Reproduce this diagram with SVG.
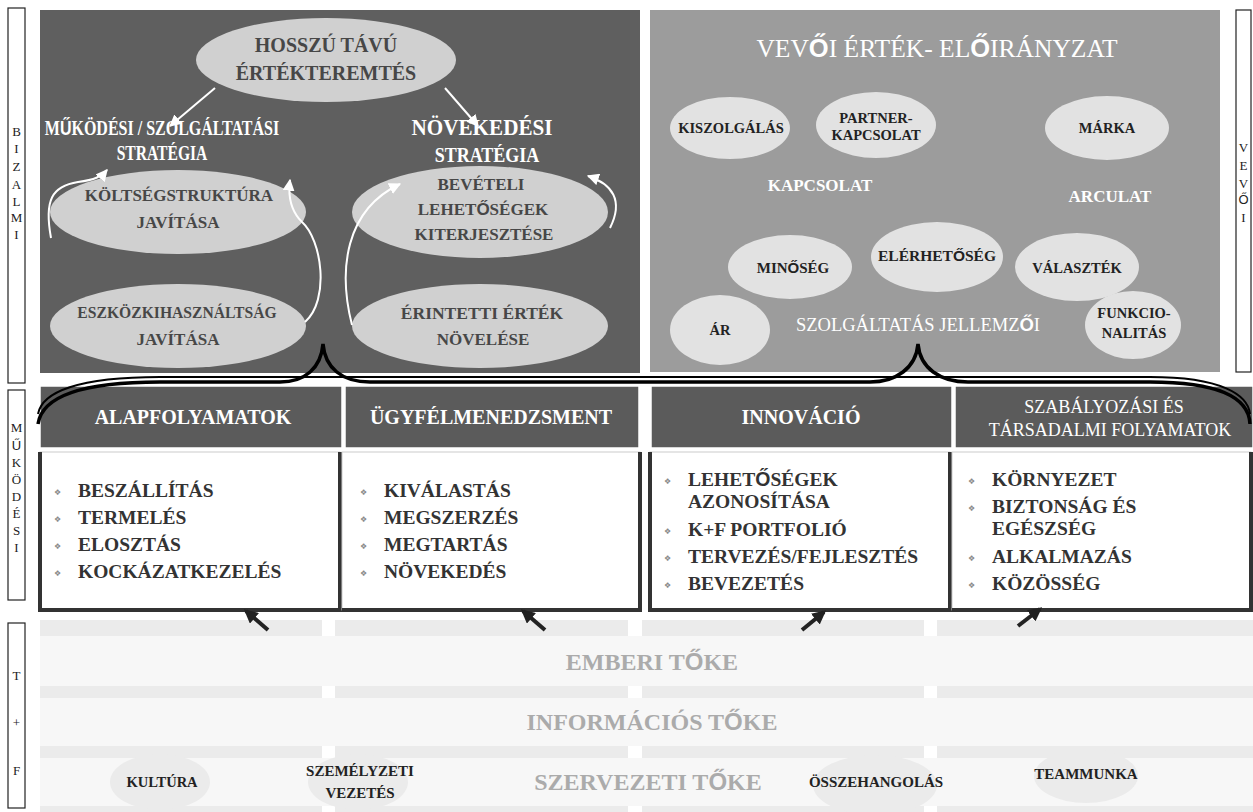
<svg xmlns="http://www.w3.org/2000/svg" width="1253" height="812" viewBox="0 0 1253 812">
  <defs>
    <style>
      .serif { font-family: "Liberation Serif", "Times New Roman", serif; font-weight: bold; }
      .reg { font-weight: normal; }
      .sx { font-family: "Liberation Sans", Arial, sans-serif; font-weight: bold; }
      .side { font-family: "Liberation Serif", serif; font-size: 13px; fill: #222; text-anchor: middle; }
      .side-sx { font-family: "Liberation Sans", Arial, sans-serif; font-size: 13px; fill: #222; text-anchor: middle; }
      .sidebox { fill: #fff; stroke: #222; stroke-width: 1.2; }
      .ell-dark { fill: #d0d0d0; }
      .ell-light { fill: #e2e2e2; }
      .ell-base { fill: #ebebeb; }
      .t-dark { fill: #474747; text-anchor: middle; }
      .t-black { fill: #222; text-anchor: middle; }
      .t-white { fill: #fff; text-anchor: middle; }
      .hdr { fill: #5b5b5b; stroke: #fff; stroke-width: 1.5; }
      .item { fill: #333; font-size: 19.5px; }
      .bul { font-family: "DejaVu Sans", sans-serif; font-size: 8px; fill: #888; }
      .strip { fill: #ebebeb; }
      .row { fill: #f7f7f7; }
      .cap { fill: #ababab; font-size: 24px; text-anchor: middle; }
      .warrow { fill: none; stroke: #fff; stroke-width: 2; }
      .barrow { fill: none; stroke: #222; stroke-width: 4; }
      .brace { fill: none; stroke: #000; }
    </style>
    <marker id="wh" viewBox="0 0 10 10" refX="9" refY="5" markerWidth="6" markerHeight="6" markerUnits="strokeWidth" orient="auto">
      <path d="M0,0 L10,5 L0,10 Z" fill="#fff"/>
    </marker>
    <marker id="bh" viewBox="0 0 10 10" refX="8" refY="5" markerWidth="3.5" markerHeight="3.5" markerUnits="strokeWidth" orient="auto">
      <path d="M0,0 L10,5 L0,10 Z" fill="#222"/>
    </marker>
  </defs>

  <rect width="1253" height="812" fill="#fff"/>

  <!-- side labels -->
  <g id="side-bizalmi">
    <rect class="sidebox" x="8" y="8" width="17" height="375"/>
    <text class="side" x="16.5" y="136">B</text>
    <text class="side" x="16.5" y="153">I</text>
    <text class="side" x="16.5" y="171">Z</text>
    <text class="side" x="16.5" y="189">A</text>
    <text class="side" x="16.5" y="206">L</text>
    <text class="side" x="16.5" y="222">M</text>
    <text class="side" x="16.5" y="239">I</text>
  </g>
  <g id="side-mukodesi">
    <rect class="sidebox" x="8" y="390" width="17" height="210"/>
    <text class="side" x="16.5" y="432">M</text>
    <text class="side-sx" x="16.5" y="450">Ű</text>
    <text class="side" x="16.5" y="467">K</text>
    <text class="side" x="16.5" y="484">Ö</text>
    <text class="side" x="16.5" y="501">D</text>
    <text class="side" x="16.5" y="518">É</text>
    <text class="side" x="16.5" y="535">S</text>
    <text class="side" x="16.5" y="552">I</text>
  </g>
  <g id="side-tf">
    <rect class="sidebox" x="8" y="623" width="17" height="185"/>
    <text class="side" x="16.5" y="680">T</text>
    <text class="side" x="16.5" y="727">+</text>
    <text class="side" x="16.5" y="775">F</text>
  </g>
  <g id="side-vevoi">
    <rect class="sidebox" x="1236" y="10" width="15" height="362"/>
    <text class="side" x="1243.5" y="152">V</text>
    <text class="side" x="1243.5" y="170">E</text>
    <text class="side" x="1243.5" y="188">V</text>
    <text class="side-sx" x="1243.5" y="204">Ő</text>
    <text class="side" x="1243.5" y="222">I</text>
  </g>

  <!-- strategy panel -->
  <g id="strategy-panel">
    <rect x="40" y="10" width="600" height="363" fill="#5f5f5f"/>
  </g>
  <g id="node-hosszu">
    <ellipse class="ell-dark" cx="326" cy="60" rx="130" ry="42"/>
    <text class="serif t-dark" x="326" y="52" font-size="20">HOSSZÚ TÁVÚ</text>
    <text class="serif t-dark" x="326" y="80" font-size="20">ÉRTÉKTEREMTÉS</text>
  </g>
  <g id="node-mukodesi">
    <text class="serif t-white" font-size="20" transform="translate(162,135) scale(0.8,1)">M<tspan class="sx">Ű</tspan>KÖDÉSI / SZOLGÁLTATÁSI</text>
    <text class="serif t-white" font-size="20" transform="translate(162,160) scale(0.78,1)">STRATÉGIA</text>
  </g>
  <g id="node-novekedesi">
    <text class="serif t-white" font-size="23" transform="translate(482,135) scale(0.92,1)">NÖVEKEDÉSI</text>
    <text class="serif t-white" font-size="20" transform="translate(487,162) scale(0.9,1)">STRATÉGIA</text>
  </g>
  <g id="node-koltseg">
    <ellipse class="ell-dark" cx="178" cy="212" rx="128" ry="42"/>
    <text class="serif t-dark" x="179" y="201" font-size="17">KÖLTSÉGSTRUKTÚRA</text>
    <text class="serif t-dark" x="178" y="228" font-size="17">JAVÍTÁSA</text>
  </g>
  <g id="node-eszkoz">
    <ellipse class="ell-dark" cx="178" cy="326" rx="128" ry="42"/>
    <text class="serif t-dark" font-size="17" transform="translate(177,318) scale(0.92,1)">ESZKÖZKIHASZNÁLTSÁG</text>
    <text class="serif t-dark" x="178" y="345" font-size="17">JAVÍTÁSA</text>
  </g>
  <g id="node-beveteli">
    <ellipse class="ell-dark" cx="480" cy="212" rx="128" ry="46"/>
    <text class="serif t-dark" x="481" y="190" font-size="17">BEVÉTELI</text>
    <text class="serif t-dark" x="483" y="215" font-size="17">LEHET<tspan class="sx">Ő</tspan>SÉGEK</text>
    <text class="serif t-dark" x="484" y="240" font-size="17">KITERJESZTÉSE</text>
  </g>
  <g id="node-erintetti">
    <ellipse class="ell-dark" cx="480" cy="326" rx="128" ry="42"/>
    <text class="serif t-dark" x="482" y="319" font-size="17.5">ÉRINTETTI  ÉRTÉK</text>
    <text class="serif t-dark" x="483" y="345" font-size="17">NÖVELÉSE</text>
  </g>

  <!-- customer value panel -->
  <g id="value-panel">
    <rect x="650" y="10" width="570" height="362" fill="#9c9c9c"/>
    <text class="serif reg t-white" x="937" y="57" font-size="25.5">VEV<tspan class="sx">Ő</tspan>I ÉRTÉK- EL<tspan class="sx">Ő</tspan>IRÁNYZAT</text>
    <text class="serif t-white" x="820" y="191" font-size="17">KAPCSOLAT</text>
    <text class="serif t-white" x="1110" y="202" font-size="17">ARCULAT</text>
    <text class="serif reg t-white" x="918" y="331" font-size="18.5">SZOLGÁLTATÁS JELLEMZ<tspan class="sx">Ő</tspan>I</text>
  </g>
  <g id="node-kiszolgalas">
    <ellipse class="ell-light" cx="730" cy="128" rx="60" ry="31"/>
    <text class="serif t-black" x="731" y="133" font-size="14.5">KISZOLGÁLÁS</text>
  </g>
  <g id="node-partner">
    <ellipse class="ell-light" cx="876" cy="125" rx="60" ry="33"/>
    <text class="serif t-black" x="876" y="123" font-size="14.5">PARTNER-</text>
    <text class="serif t-black" x="876" y="140" font-size="14.5">KAPCSOLAT</text>
  </g>
  <g id="node-marka">
    <ellipse class="ell-light" cx="1107" cy="128" rx="62" ry="32"/>
    <text class="serif t-black" x="1107" y="133" font-size="14.5">MÁRKA</text>
  </g>
  <g id="node-minoseg">
    <ellipse class="ell-light" cx="790" cy="267" rx="62" ry="32"/>
    <text class="serif t-black" x="793" y="273" font-size="15">MIN<tspan class="sx">Ő</tspan>SÉG</text>
  </g>
  <g id="node-elerhetoseg">
    <ellipse class="ell-light" cx="937" cy="257" rx="66" ry="35"/>
    <text class="serif t-black" x="937" y="261" font-size="15.5">ELÉRHET<tspan class="sx">Ő</tspan>SÉG</text>
  </g>
  <g id="node-valasztek">
    <ellipse class="ell-light" cx="1077" cy="267" rx="62" ry="34"/>
    <text class="serif t-black" x="1077" y="273" font-size="14.5">VÁLASZTÉK</text>
  </g>
  <g id="node-ar">
    <ellipse class="ell-light" cx="720" cy="330" rx="50" ry="35"/>
    <text class="serif t-black" x="720" y="335" font-size="14.5">ÁR</text>
  </g>
  <g id="node-funkcio">
    <ellipse class="ell-light" cx="1133" cy="325" rx="48" ry="34"/>
    <text class="serif t-black" x="1134" y="318" font-size="14.5">FUNKCIO-</text>
    <text class="serif t-black" x="1134" y="338" font-size="14.5">NALITÁS</text>
  </g>

  <!-- process headers -->
  <g id="node-alap">
    <rect class="hdr" x="40" y="386" width="302" height="62"/>
    <text class="serif t-white" x="193" y="424" font-size="20">ALAPFOLYAMATOK</text>
  </g>
  <g id="node-ugyfel">
    <rect class="hdr" x="345" y="386" width="294" height="62"/>
    <text class="serif t-white" x="491" y="424" font-size="20">ÜGYFÉLMENEDZSMENT</text>
  </g>
  <g id="node-innovacio">
    <rect class="hdr" x="651" y="386" width="301" height="62"/>
    <text class="serif t-white" x="801" y="424" font-size="20">INNOVÁCIÓ</text>
  </g>
  <g id="node-szabalyozasi">
    <rect class="hdr" x="955" y="386" width="298" height="62"/>
    <text class="serif reg t-white" x="1104" y="413" font-size="18">SZABÁLYOZÁSI  ÉS</text>
    <text class="serif reg t-white" x="1110" y="436" font-size="18">TÁRSADALMI FOLYAMATOK</text>
  </g>

  <!-- process lists -->
  <g id="list-alap">
    <rect x="40" y="452" width="300" height="158" fill="#fff" stroke="#ccc" stroke-width="1"/>
    <path d="M40,452 V610 H340 V452" fill="none" stroke="#333" stroke-width="4"/>
    <text class="bul" x="54" y="495">❖</text><text class="serif item" x="78" y="497">BESZÁLLÍTÁS</text>
    <text class="bul" x="54" y="522">❖</text><text class="serif item" x="78" y="524">TERMELÉS</text>
    <text class="bul" x="54" y="549">❖</text><text class="serif item" x="78" y="551">ELOSZTÁS</text>
    <text class="bul" x="54" y="576">❖</text><text class="serif item" x="78" y="578">KOCKÁZATKEZELÉS</text>
  </g>
  <g id="list-ugyfel">
    <rect x="342" y="452" width="298" height="158" fill="#fff" stroke="#ccc" stroke-width="1"/>
    <path d="M640,452 V610 H342" fill="none" stroke="#333" stroke-width="4"/>
    <text class="bul" x="360" y="495">❖</text><text class="serif item" x="384" y="497">KIVÁLASTÁS</text>
    <text class="bul" x="360" y="522">❖</text><text class="serif item" x="384" y="524">MEGSZERZÉS</text>
    <text class="bul" x="360" y="549">❖</text><text class="serif item" x="384" y="551">MEGTARTÁS</text>
    <text class="bul" x="360" y="576">❖</text><text class="serif item" x="384" y="578">NÖVEKEDÉS</text>
  </g>
  <g id="list-innovacio">
    <rect x="650" y="452" width="300" height="158" fill="#fff" stroke="#ccc" stroke-width="1"/>
    <path d="M650,452 V610 H950 V452" fill="none" stroke="#333" stroke-width="4"/>
    <text class="bul" x="664" y="484">❖</text><text class="serif item" x="688" y="486">LEHET<tspan class="sx">Ő</tspan>SÉGEK</text>
    <text class="serif item" x="688" y="508">AZONOSÍTÁSA</text>
    <text class="bul" x="664" y="534">❖</text><text class="serif item" x="688" y="536">K+F PORTFOLIÓ</text>
    <text class="bul" x="664" y="561">❖</text><text class="serif item" x="688" y="563">TERVEZÉS/FEJLESZTÉS</text>
    <text class="bul" x="664" y="588">❖</text><text class="serif item" x="688" y="590">BEVEZETÉS</text>
  </g>
  <g id="list-szabalyozasi">
    <rect x="952" y="452" width="299" height="158" fill="#fff" stroke="#ccc" stroke-width="1"/>
    <path d="M1251,452 V610 H952" fill="none" stroke="#333" stroke-width="4"/>
    <text class="bul" x="968" y="484">❖</text><text class="serif item" x="992" y="486">KÖRNYEZET</text>
    <text class="bul" x="968" y="511">❖</text><text class="serif item" x="992" y="513">BIZTONSÁG ÉS</text>
    <text class="serif item" x="992" y="535">EGÉSZSÉG</text>
    <text class="bul" x="968" y="561">❖</text><text class="serif item" x="992" y="563">ALKALMAZÁS</text>
    <text class="bul" x="968" y="588">❖</text><text class="serif item" x="992" y="590">KÖZÖSSÉG</text>
  </g>

  <!-- learning and growth base -->
  <g id="capital-base">
    <rect class="row" x="40" y="636" width="1213" height="50"/>
    <rect class="row" x="40" y="698" width="1213" height="48"/>
    <rect class="row" x="40" y="758" width="1213" height="48"/>
    <g class="strip">
      <rect x="40" y="620" width="282" height="16"/><rect x="335" y="620" width="293" height="16"/><rect x="642" y="620" width="282" height="16"/><rect x="937" y="620" width="316" height="16"/>
      <rect x="40" y="686" width="282" height="12"/><rect x="335" y="686" width="293" height="12"/><rect x="642" y="686" width="282" height="12"/><rect x="937" y="686" width="316" height="12"/>
      <rect x="40" y="746" width="282" height="12"/><rect x="335" y="746" width="293" height="12"/><rect x="642" y="746" width="282" height="12"/><rect x="937" y="746" width="316" height="12"/>
      <rect x="40" y="806" width="282" height="6"/><rect x="335" y="806" width="293" height="6"/><rect x="642" y="806" width="282" height="6"/><rect x="937" y="806" width="316" height="6"/>
    </g>
    <text class="serif cap" x="652" y="670">EMBERI T<tspan class="sx">Ő</tspan>KE</text>
    <text class="serif cap" x="652" y="730">INFORMÁCIÓS T<tspan class="sx">Ő</tspan>KE</text>
    <text class="serif cap" x="648" y="790">SZERVEZETI T<tspan class="sx">Ő</tspan>KE</text>
  </g>
  <g id="node-kultura">
    <ellipse class="ell-base" cx="160" cy="782" rx="50" ry="28"/>
    <text class="serif t-black" x="162" y="787" font-size="14.5">KULTÚRA</text>
  </g>
  <g id="node-szemelyzeti">
    <ellipse class="ell-base" cx="358" cy="782" rx="50" ry="28"/>
    <text class="serif t-black" x="360" y="776" font-size="15">SZEMÉLYZETI</text>
    <text class="serif t-black" x="360" y="798" font-size="15">VEZETÉS</text>
  </g>
  <g id="node-osszehangolas">
    <ellipse class="ell-base" cx="875" cy="785" rx="62" ry="30"/>
    <text class="serif t-black" x="876" y="787" font-size="15">ÖSSZEHANGOLÁS</text>
  </g>
  <g id="node-teammunka">
    <ellipse class="ell-base" cx="1086" cy="776" rx="52" ry="27"/>
    <text class="serif t-black" x="1086" y="779" font-size="15">TEAMMUNKA</text>
  </g>

  <!-- connectors -->
  <g id="connectors">
    <path class="warrow" d="M215,88 L170,126" marker-end="url(#wh)"/>
    <path class="warrow" d="M445,88 L478,126" marker-end="url(#wh)"/>
    <path class="warrow" d="M51,238 C44,200 52,186 78,182 C95,180 102,176 107,170" marker-end="url(#wh)"/>
    <path class="warrow" d="M305,322 C330,300 322,240 302,222 C290,210 288,195 290,180" marker-end="url(#wh)"/>
    <path class="warrow" d="M352,325 C338,270 345,210 400,184" marker-end="url(#wh)"/>
    <path class="warrow" d="M610,228 C624,200 612,184 588,176" marker-end="url(#wh)"/>

    <path class="barrow" d="M268,630 L246,611" marker-end="url(#bh)"/>
    <path class="barrow" d="M545,630 L523,611" marker-end="url(#bh)"/>
    <path class="barrow" d="M802,630 L824,612" marker-end="url(#bh)"/>
    <path class="barrow" d="M1018,626 L1040,609" marker-end="url(#bh)"/>

    <!-- double-line braces joining the perspectives -->
    <path class="brace" stroke-width="2" d="M38,414 C42,392 78,377 160,377 L1150,377 C1222,377 1248,395 1250,414"/>
    <path class="brace" stroke-width="3.5" d="M38,424 C42,397 80,382 160,382 L280,382 C305,382 321,368 323,344 C325,368 342,382 370,382 L870,382 C896,382 916,368 918,344 C920,368 940,382 968,382 L1150,382 C1225,382 1249,400 1250,424"/>
  </g>
</svg>
